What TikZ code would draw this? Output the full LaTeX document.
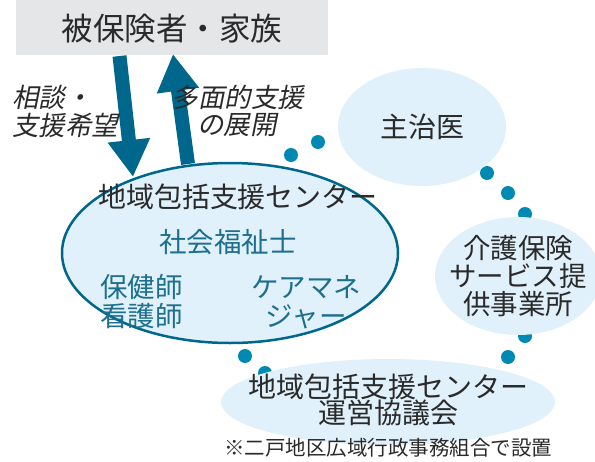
\documentclass[tikz,border=0pt]{standalone}
\usepackage{fontspec}
\setmainfont{Noto Sans CJK JP}
\newfontfamily\jpit[FakeSlant=0.2]{Noto Sans CJK JP}
\usetikzlibrary{arrows.meta,shapes.geometric}
\definecolor{boxgray}{HTML}{E5E6E8}
\definecolor{arrowblue}{HTML}{00678C}
\definecolor{dotblue}{HTML}{0089B3}
\definecolor{paleblue}{HTML}{E0F1FB}
\definecolor{txtdark}{HTML}{2A2A2A}
\definecolor{txtteal}{HTML}{1C6F8D}
\begin{document}
\begin{tikzpicture}[x=1pt,y=-1pt,
  bigarrow/.style={draw=arrowblue, line width=14pt, -{Triangle[width=40pt,length=37pt]}},
  dotc/.style={fill=dotblue},
  paleell/.style={ellipse, fill=paleblue, inner sep=0pt},
  dark/.style={text=txtdark, inner sep=0pt, align=center},
  teal/.style={text=txtteal, inner sep=0pt},
  lbl/.style={text=txtdark, inner sep=0pt, font=\jpit\fontsize{26.5pt}{28pt}\selectfont}]
\useasboundingbox (0,0) rectangle (595,461);

% dots (drawn first, partly hidden by ellipses)
\foreach \p in {(291,155),(318,142),(487,173),(508,193),(525,214),(525,336),(508,357),(245,356),(265,373)}
  \fill[dotc] \p circle (7);

% top box
\node[fill=boxgray, minimum width=312pt, minimum height=55pt, inner sep=0pt, anchor=north west] (box) at (16,0) {};
\node[dark, font=\fontsize{31.5pt}{33pt}\selectfont] (boxt) at (172,29) {被保険者・家族};

% ellipses
\node[paleell, draw=arrowblue, line width=2.5pt, minimum width=336pt, minimum height=180pt] (main) at (230,253) {};
\node[paleell, minimum width=168pt, minimum height=118pt] (doc) at (422,127) {};
\node[paleell, minimum width=166pt, minimum height=118pt] (care) at (518,276) {};
\node[paleell, minimum width=334pt, minimum height=86pt] (meet) at (388,402) {};

% arrows
\coordinate (d1) at (119.5,56);
\coordinate (d2) at (133,177);
\coordinate (u1) at (188,164);
\coordinate (u2) at (173,54);
\draw[bigarrow] (d1) -- (d2);
\draw[bigarrow] (u1) -- (u2);

% labels
\node[lbl, anchor=west] (l1) at (12,97) {相談・};
\node[lbl, anchor=west] (l2) at (12,125) {支援希望};
\node[lbl] (r1) at (238,97) {多面的支援};
\node[lbl] (r2) at (237,125) {の展開};

% main ellipse text
\node[dark, font=\fontsize{28pt}{29pt}\selectfont] (mt) at (238,197) {地域包括支援センター};
\node[teal, font=\fontsize{27.5pt}{29pt}\selectfont] (sw) at (228,242) {社会福祉士};
\node[teal, align=left, font=\fontsize{27.5pt}{29pt}\selectfont, anchor=west] (nurse) at (100,302) {保健師\\看護師};
\node[teal, align=center, font=\fontsize{27.5pt}{29pt}\selectfont] (cm) at (306,302) {ケアマネ\\ジャー};

% other texts
\node[dark, font=\fontsize{28pt}{29pt}\selectfont] (doct) at (422,127) {主治医};
\node[dark, font=\fontsize{27.5pt}{28pt}\selectfont] (caret) at (518,276) {介護保険\\サービス提\\供事業所};
\node[dark, font=\fontsize{28pt}{26pt}\selectfont] (meett) at (388,400) {地域包括支援センター\\運営協議会};
\node[dark, font=\fontsize{20.5pt}{22pt}\selectfont] (note) at (388,448) {※二戸地区広域行政事務組合で設置};
\end{tikzpicture}
\end{document}
